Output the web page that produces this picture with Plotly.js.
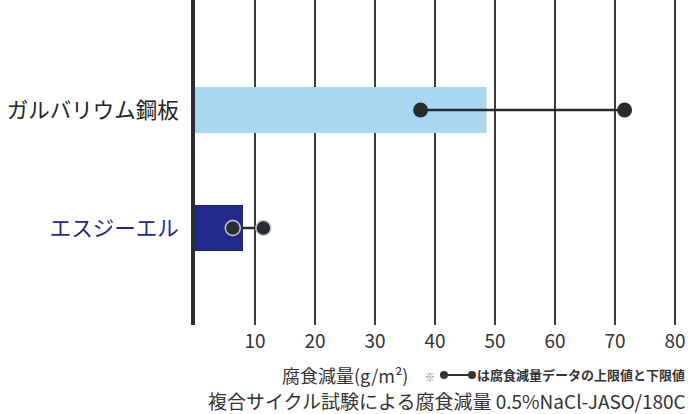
<!DOCTYPE html>
<html><head><meta charset="utf-8">
<script src="https://cdn.plot.ly/plotly-3.0.1.min.js"></script>
<style>html,body{margin:0;padding:0;background:#fff}#c{width:691px;height:414px}</style>
</head><body><div id="c"></div>
<script>
const categories = ["エスジーエル", "ガルバリウム鋼板"];
const labelColors = ["#1f2a86", "#222222"];
const barValues = [8.0, 48.6];
const lowValues = [6.3, 37.6];
const highValues = [11.4, 71.6];
const barColors = ["#1f2a8c", "#a9d7f0"];
const xTicks = [10, 20, 30, 40, 50, 60, 70, 80];

const F = '"Noto Sans CJK JP", "Noto Sans", sans-serif';

const traces = [{
  type: 'bar', orientation: 'h',
  x: barValues, y: categories,
  width: 0.39,
  marker: {color: barColors, line: {width: 0}},
  hoverinfo: 'skip'
}];
categories.forEach((c, i) => {
  traces.push({
    type: 'scatter', mode: 'lines+markers',
    x: [lowValues[i], highValues[i]], y: [c, c],
    line: {color: '#262a2c', width: 2.5},
    marker: {color: '#2a2d2f', size: 15, line: {color: i === 0 ? '#c8c8c8' : '#2a2d2f', width: i === 0 ? 1.5 : 0}},
    hoverinfo: 'skip'
  });
});

const L = 195, W = 486, T = 0, H = 325;
const px = v => (v - L) / W;
const py = v => (T + H - v) / H;

const layout = {
  width: 691, height: 414,
  margin: {l: L, r: 691 - L - W, t: T, b: 414 - H},
  paper_bgcolor: '#fff', plot_bgcolor: '#fff',
  showlegend: false,
  xaxis: {
    range: [0, 81], tickvals: xTicks, ticktext: xTicks.map(String),
    showgrid: true, gridcolor: '#3c3c3c', gridwidth: 1.5,
    zeroline: false, showline: false, ticks: '',
    tickfont: {family: F, size: 19, color: '#333'},
    ticklabelstandoff: 3,
    fixedrange: true
  },
  yaxis: {
    type: 'category', categoryorder: 'array', categoryarray: categories,
    range: [-0.822, 1.932],
    tickvals: categories,
    ticktext: categories.map((c, i) => '<span style="color:' + labelColors[i] + '">' + c + '</span>'),
    tickfont: {family: F, size: 21.5, color: '#222'},
    ticks: '', ticklen: 0, showgrid: false, zeroline: false,
    ticklabelstandoff: 8,
    showline: true, linecolor: '#2e2e2e', linewidth: 4,
    automargin: false, fixedrange: true
  },
  annotations: [
    {xref: 'paper', yref: 'paper', x: px(410), y: py(375), xanchor: 'right', yanchor: 'middle',
     text: '腐食減量(g/m²)', showarrow: false, font: {family: F, size: 18, color: '#333'}},
    {xref: 'paper', yref: 'paper', x: px(423), y: py(376), xanchor: 'left', yanchor: 'middle',
     text: '※', showarrow: false, font: {family: F, size: 10, color: '#777'}},
    {xref: 'paper', yref: 'paper', x: px(475), y: py(375), xanchor: 'left', yanchor: 'middle',
     text: '<b>は腐食減量データの上限値と下限値</b>', showarrow: false, font: {family: F, size: 13, color: '#333'}},
    {xref: 'paper', yref: 'paper', x: px(688), y: py(400.5), xanchor: 'right', yanchor: 'middle',
     text: '複合サイクル試験による腐食減量 0.5%NaCl-JASO/180C', showarrow: false, font: {family: F, size: 19, color: '#333'}}
  ],
  shapes: [
    {type: 'line', xref: 'paper', yref: 'paper', x0: px(444), x1: px(472), y0: py(375), y1: py(375), line: {color: '#333', width: 2}},
    {type: 'circle', xref: 'paper', yref: 'paper', x0: px(440), x1: px(448), y0: py(371), y1: py(379), fillcolor: '#333', line: {width: 0}},
    {type: 'circle', xref: 'paper', yref: 'paper', x0: px(468), x1: px(476), y0: py(371), y1: py(379), fillcolor: '#333', line: {width: 0}}
  ]
};

Plotly.newPlot('c', traces, layout, {staticPlot: true, displayModeBar: false});
</script>
</body></html>
